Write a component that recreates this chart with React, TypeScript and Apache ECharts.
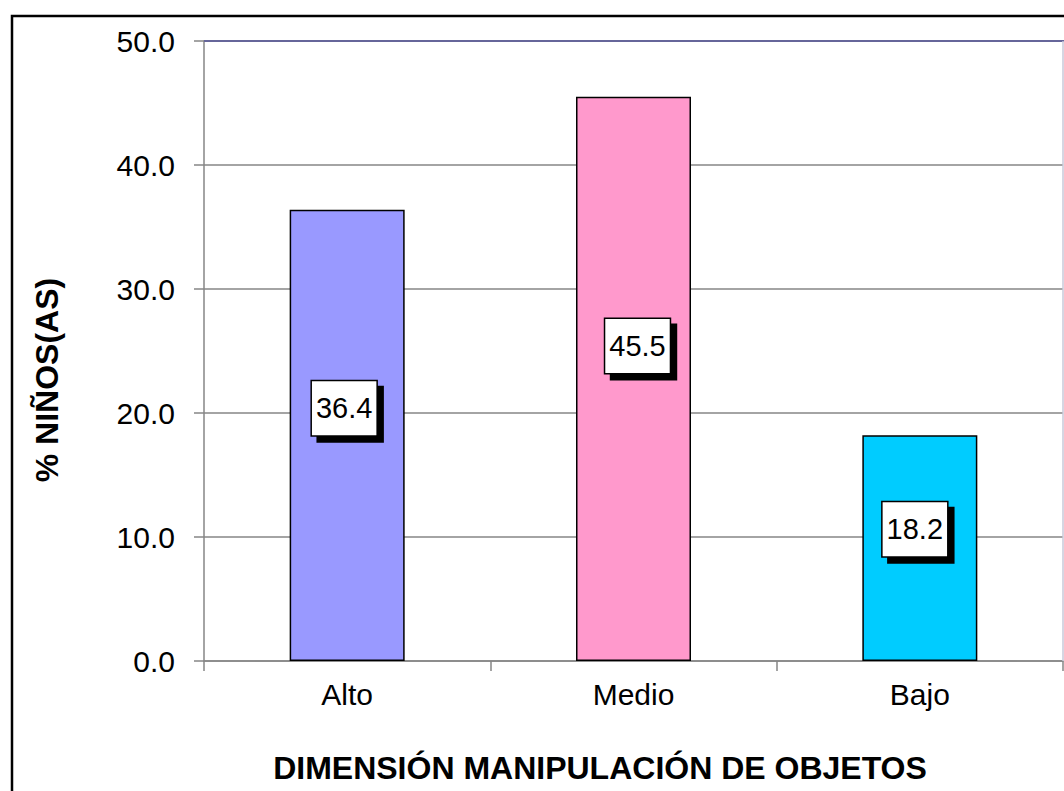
import React, { useEffect, useRef } from "react";
import * as echarts from "echarts";

const categories = ["Alto", "Medio", "Bajo"];
const values = [36.4, 45.5, 18.2];
const barColors = ["#9999FF", "#FF99CC", "#00CCFF"];
const labelOffsets = [[-3, -27], [4, -33], [-5, -19]];
const yTicks = { min: 0, max: 50, interval: 10 };
const xTitle = "DIMENSIÓN MANIPULACIÓN DE OBJETOS";
const yTitle = "% NIÑOS(AS)";

export default function App() {
  const ref = useRef<HTMLDivElement>(null);
  useEffect(() => {
    if (!ref.current) return;
    const chart = echarts.init(ref.current, null, { renderer: "svg" });
    const font = "Arial, 'Liberation Sans', sans-serif";
    chart.setOption({
      animation: false,
      backgroundColor: "#ffffff",
      grid: { left: 204, right: 1, top: 41, bottom: 130, containLabel: false },
      xAxis: {
        type: "category",
        data: categories,
        axisLine: { lineStyle: { color: "#868686", width: 1.5 } },
        axisTick: { show: true, length: 10, alignWithLabel: false, lineStyle: { color: "#868686", width: 1.5 } },
        axisLabel: { color: "#000", fontSize: 30, fontFamily: font, margin: 18 },
      },
      yAxis: {
        type: "value",
        min: yTicks.min,
        max: yTicks.max,
        interval: yTicks.interval,
        axisLine: { show: true, lineStyle: { color: "#868686", width: 1.5 } },
        axisTick: { show: true, length: 10, inside: false, lineStyle: { color: "#868686", width: 1.5 } },
        axisLabel: {
          color: "#000",
          fontSize: 30,
          fontFamily: font,
          margin: 29,
          formatter: (v: number) => v.toFixed(1),
        },
        splitLine: { show: true, lineStyle: { color: "#868686", width: 1.5 } },
      },
      series: [
        {
          type: "bar",
          barWidth: 115,
          data: values.map((v, i) => ({
            value: v,
            itemStyle: { color: barColors[i] },
            label: { offset: labelOffsets[i] },
          })),
          itemStyle: { borderColor: "#000", borderWidth: 1.5 },
          label: {
            show: true,
            position: "inside",
            formatter: (p: any) => p.value.toFixed(1),
            color: "#000",
            fontSize: 29,
            fontFamily: font,
            lineHeight: 32,
            backgroundColor: "#ffffff",
            borderColor: "#000",
            borderWidth: 1.5,
            padding: [11, 4, 11, 4],
            shadowColor: "#000",
            shadowBlur: 0,
            shadowOffsetX: 6,
            shadowOffsetY: 6,
          },
        },
      ],
      graphic: [
        {
          type: "rect",
          z: 100,
          shape: { x: 12, y: 16, width: 1200, height: 1000 },
          style: { fill: "none", stroke: "#000", lineWidth: 2.5 },
          silent: true,
        },
        {
          type: "line",
          z: 100,
          shape: { x1: 204, y1: 41, x2: 1064, y2: 41 },
          style: { stroke: "#66669A", lineWidth: 2 },
          silent: true,
        },
        {
          type: "line",
          z: 100,
          shape: { x1: 1063, y1: 41, x2: 1063, y2: 661 },
          style: { stroke: "#C8C8D8", lineWidth: 1.5 },
          silent: true,
        },
        {
          type: "text",
          z: 100,
          x: 600,
          y: 768,
          style: {
            text: xTitle,
            fill: "#000",
            font: `bold 32px ${font}`,
            textAlign: "center",
            textVerticalAlign: "middle",
          },
        },
        {
          type: "text",
          z: 100,
          x: 47,
          y: 380,
          rotation: Math.PI / 2,
          style: {
            text: yTitle,
            fill: "#000",
            font: `bold 32px ${font}`,
            textAlign: "center",
            textVerticalAlign: "middle",
          },
        },
      ],
    });
    return () => chart.dispose();
  }, []);
  return (
    <div
      ref={ref}
      style={{ position: "fixed", left: 0, top: 0, width: 1064, height: 791 }}
    />
  );
}
